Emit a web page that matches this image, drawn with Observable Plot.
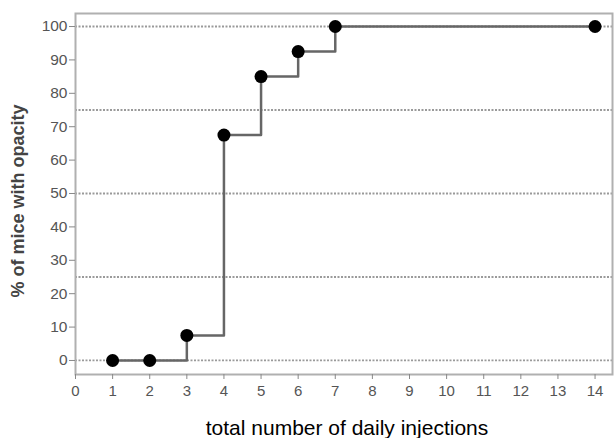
<!DOCTYPE html>
<html><head><meta charset="utf-8">
<script src="https://cdn.jsdelivr.net/npm/d3@7"></script>
<script src="https://cdn.jsdelivr.net/npm/@observablehq/plot@0.6"></script>
<style>
body{margin:0;background:#fff;font-family:"Liberation Sans",Arial,sans-serif;}
#c{position:relative;width:614px;height:438px;}
</style></head><body><div id="c"></div>
<script>
const injections = [1, 2, 3, 4, 5, 6, 7, 14];
const pctOpacity = [0, 0, 7.5, 67.5, 85, 92.5, 100, 100];
const refLines = [0, 25, 50, 75, 100];
const yTicks = [0,10,20,30,40,50,60,70,80,90,100];
const xTicks = [0,1,2,3,4,5,6,7,8,9,10,11,12,13,14];

const data = injections.map((x,i)=>({x, y: pctOpacity[i]}));

const chart = Plot.plot({
  width: 614, height: 438,
  marginLeft: 75, marginRight: 2, marginTop: 13, marginBottom: 64,
  style: {fontFamily: "Liberation Sans, Arial, sans-serif", fontSize: "15px", color: "#444", background: "#fff"},
  x: {domain: [0, 14.47], label: null},
  y: {domain: [-4.2, 103.9], label: null},
  marks: [
    Plot.ruleY(refLines, {stroke: "#9a9a9a", strokeWidth: 1.8, strokeDasharray: "2,1.5"}),
    Plot.frame({stroke: "#b0b0b0", strokeWidth: 2}),
    Plot.axisX({ticks: xTicks, tickSize: 5, tickPadding: 6, stroke: "#888", fill: "#555", fontSize: 15, label: null, tickFormat: d3.format("d")}),
    Plot.axisY({ticks: yTicks, tickSize: 6, tickPadding: 2, stroke: "#888", fill: "#555", fontSize: 15.5, label: null, tickFormat: d3.format("d")}),
    Plot.line(data, {x: "x", y: "y", curve: "step-after", stroke: "#666", strokeWidth: 2.5}),
    Plot.dot(data, {x: "x", y: "y", r: 6.5, fill: "#000", stroke: "none"}),
    Plot.text(["total number of daily injections"], {frameAnchor: "bottom", dy: 60, fontSize: 21, fill: "#000", textAnchor: "middle", dx: 3}),
    Plot.text(["% of mice with opacity"], {frameAnchor: "left", dx: -57, dy: 7, rotate: -90, fontSize: 18, fill: "#444", fontWeight: "bold", textAnchor: "middle"})
  ]
});
document.getElementById("c").appendChild(chart);
</script></body></html>
